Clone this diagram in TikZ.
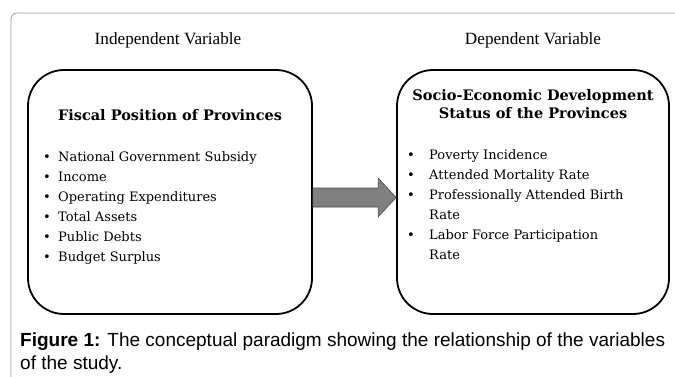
\documentclass[tikz,border=0pt]{standalone}
\usepackage{fontspec}
\setmainfont{DejaVu Serif}
\newfontfamily\headfont{Liberation Serif}
\newfontfamily\capfont{Liberation Sans}
\usetikzlibrary{calc}

\tikzset{
  varbox/.style={draw=black, line width=1.8pt, rounded corners=36pt,
    minimum width=284pt, minimum height=244pt, inner sep=0pt},
  heading/.style={font=\headfont\fontsize{17.2}{20}\selectfont, inner sep=0pt},
  boxtitle/.style={font=\bfseries\fontsize{14.5}{18.5}\selectfont, align=center, inner sep=0pt},
  itemlist/.style={font=\fontsize{13}{20}\selectfont, align=left, inner sep=0pt, anchor=north west},
  bigarrow/.style={draw=black!70, fill=black!50, line width=0.6pt, line join=miter},
  frame/.style={draw=black!40, line width=0.8pt, rounded corners=6pt},
  caption/.style={font=\capfont\fontsize{19}{23}\selectfont, align=left, inner sep=0pt, anchor=north west}
}
\newcommand{\lbul}{\makebox[15pt][l]{\textbullet}}
\newcommand{\rbul}{\makebox[22pt][l]{\textbullet}}
\newcommand{\rgap}{\makebox[22pt][l]{}}

\begin{document}
\begin{tikzpicture}[x=1pt, y=1pt]
  \useasboundingbox (0,0) rectangle (675,-376);

  % outer frame, running off the right and bottom edges
  \draw[frame] (11,-400) -- (11,-13) -- (700,-13);

  % column headings
  \node[heading] (indep) at (168,-40) {Independent Variable};
  \node[heading] (dep) at (533,-40) {Dependent Variable};

  % the two variable boxes
  \node[varbox] (fiscal) at (170,-192) {};
  \node[varbox, minimum width=272pt] (econ) at (533,-192) {};

  % box contents
  \node[boxtitle] (fiscaltitle) at (170,-115) {Fiscal Position of Provinces};
  \node[itemlist] (fiscallist) at (43,-151) {%
    \lbul National Government Subsidy\\
    \lbul Income\\
    \lbul Operating Expenditures\\
    \lbul Total Assets\\
    \lbul Public Debts\\
    \lbul Budget Surplus};

  \node[boxtitle] (econtitle) at (533,-104) {Socio-Economic Development\\Status of the Provinces};
  \node[itemlist] (econlist) at (407,-149) {%
    \rbul Poverty Incidence\\
    \rbul Attended Mortality Rate\\
    \rbul Professionally Attended Birth\\
    \rgap Rate\\
    \rbul Labor Force Participation\\
    \rgap Rate};

  % block arrow from the independent to the dependent variable
  \coordinate (as) at ($(fiscal.east)+(0,-5.5)$);
  \coordinate (ae) at ($(econ.west)+(0,-5.5)$);
  \draw[bigarrow] ($(as)+(0,9.5)$) -- ($(ae)+(-18,9.5)$) -- ($(ae)+(-18,19.5)$)
    -- (ae) -- ($(ae)+(-18,-19.5)$) -- ($(ae)+(-18,-9.5)$) -- ($(as)+(0,-9.5)$) -- cycle;

  % figure caption
  \node[caption] (cap) at (20,-333) {\textbf{Figure 1:} The conceptual paradigm showing the relationship of the variables\\of the study.};
\end{tikzpicture}
\end{document}
